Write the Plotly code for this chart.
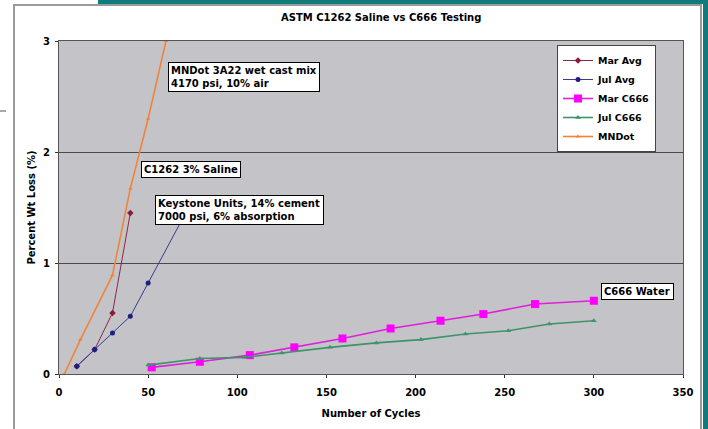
import plotly.graph_objects as go

# ---------------- data ----------------
mar_avg_x = [10, 20, 30, 40]
mar_avg_y = [0.07, 0.22, 0.55, 1.45]

jul_avg_x = [10, 20, 30, 40, 50, 70]
jul_avg_y = [0.07, 0.22, 0.37, 0.52, 0.82, 1.42]

mar_c666_x = [52, 79, 107, 132, 159, 186, 214, 238, 267, 300]
mar_c666_y = [0.06, 0.11, 0.17, 0.24, 0.32, 0.41, 0.48, 0.54, 0.63, 0.66]

jul_c666_x = [50, 79, 104, 125, 152, 178, 203, 228, 252, 275, 300]
jul_c666_y = [0.08, 0.14, 0.15, 0.19, 0.24, 0.28, 0.31, 0.36, 0.39, 0.45, 0.48]

mndot_x = [3, 12, 30, 40, 50, 60]
mndot_y = [0.0, 0.31, 0.89, 1.67, 2.30, 3.0]

x_ticks = [0, 50, 100, 150, 200, 250, 300, 350]
y_ticks = [0, 1, 2, 3]

title_text = "ASTM C1262 Saline vs C666 Testing"
x_title = "Number of Cycles"
y_title = "Percent Wt Loss (%)"

FONT = "DejaVu Sans, Verdana, sans-serif"
BOLD = dict(family=FONT, size=10, color="black", weight="bold")

fig = go.Figure()

fig.add_trace(go.Scatter(x=mar_avg_x, y=mar_avg_y, name="Mar Avg", mode="lines+markers",
                         line=dict(color="#8B2846", width=1),
                         marker=dict(symbol="diamond", size=5, color="#8B1A3A")))
fig.add_trace(go.Scatter(x=jul_avg_x, y=jul_avg_y, name="Jul Avg", mode="lines+markers",
                         line=dict(color="#3A3A90", width=1),
                         marker=dict(symbol="circle", size=5, color="#1E1E80")))
fig.add_trace(go.Scatter(x=mar_c666_x, y=mar_c666_y, name="Mar C666", mode="lines+markers",
                         line=dict(color="#E020D8", width=1.6),
                         marker=dict(symbol="square", size=8, color="#FF00FF")))
fig.add_trace(go.Scatter(x=jul_c666_x, y=jul_c666_y, name="Jul C666", mode="lines+markers",
                         line=dict(color="#3C9468", width=1.6),
                         marker=dict(symbol="triangle-up", size=5, color="#3C9468")))
fig.add_trace(go.Scatter(x=mndot_x, y=mndot_y, name="MNDot", mode="lines+markers",
                         line=dict(color="#F0843A", width=1.6),
                         marker=dict(symbol="triangle-up", size=4, color="#F0843A")))

def box(text, x, y, w):
    return dict(text=text, x=x, y=y, xref="x", yref="y", xanchor="left", yanchor="top",
                showarrow=False, align="left", font=BOLD, bgcolor="white",
                bordercolor="black", borderwidth=1, borderpad=2, width=w)

annotations = [
    box("MNDot 3A22 wet cast mix<br>4170 psi, 10% air", 61.1, 2.81, 146),
    box("C1262 3% Saline", 46.0, 1.92, 94),
    box("Keystone Units, 14% cement<br>7000 psi, 6% absorption", 53.8, 1.61, 163),
    box("C666 Water", 304, 0.82, 67),
    dict(text=title_text, x=(381 - 59) / 624, y=(374 - 17) / 333, xref="paper", yref="paper",
         xanchor="center", yanchor="middle", showarrow=False, font=BOLD),
]

TEAL = "#0F7B7B"
def px(xp):
    return (xp - 59) / 624
def py(yp):
    return (374 - yp) / 333

shapes = [
    # chart border
    dict(type="rect", xref="paper", yref="paper", x0=px(14), x1=px(701), y0=py(440), y1=py(5),
         line=dict(color="#9A9A9A", width=2), fillcolor="rgba(0,0,0,0)", layer="below"),
    # teal bands
    dict(type="rect", xref="paper", yref="paper", x0=px(98), x1=px(710), y0=py(4), y1=py(-2),
         line=dict(width=0), fillcolor=TEAL, layer="below"),
    dict(type="rect", xref="paper", yref="paper", x0=px(703), x1=px(710), y0=py(440), y1=py(-2),
         line=dict(width=0), fillcolor=TEAL, layer="below"),
    # small dash at left
    dict(type="line", xref="paper", yref="paper", x0=px(0), x1=px(6), y0=py(111), y1=py(111),
         line=dict(color="#555555", width=1)),
]

fig.update_layout(
    width=708, height=429,
    margin=dict(l=59, r=25, t=41, b=55),
    paper_bgcolor="white",
    plot_bgcolor="#C4C3C8",
    font=dict(family=FONT, size=10, color="black"),
    showlegend=True,
    legend=dict(x=px(557), y=py(45), xanchor="left", yanchor="top",
                bgcolor="white", bordercolor="#444444", borderwidth=1,
                font=dict(family=FONT, size=9.5, color="black", weight="bold"),
                tracegroupgap=0, itemwidth=30),
    annotations=annotations,
    shapes=shapes,
)

fig.update_xaxes(range=[0, 350], tickvals=x_ticks, ticktext=[str(v) for v in x_ticks],
                 showgrid=False, zeroline=False, showline=True, linecolor="#555555", linewidth=1,
                 mirror=True, ticks="outside", ticklen=3, tickcolor="#333333",
                 tickfont=BOLD, ticklabelstandoff=6,
                 title=dict(text=x_title, font=BOLD, standoff=12))
fig.update_yaxes(range=[0, 3], tickvals=y_ticks, ticktext=[str(v) for v in y_ticks],
                 showgrid=True, gridcolor="#4A4A4A", gridwidth=1, zeroline=False,
                 showline=True, linecolor="#555555", linewidth=1, mirror=True,
                 ticks="outside", ticklen=3, tickcolor="#333333",
                 tickfont=BOLD, ticklabelstandoff=3,
                 title=dict(text=y_title, font=BOLD, standoff=5))

fig.write_html("out.html", config={"displayModeBar": False},
               post_script="document.body.style.margin='0px';")
